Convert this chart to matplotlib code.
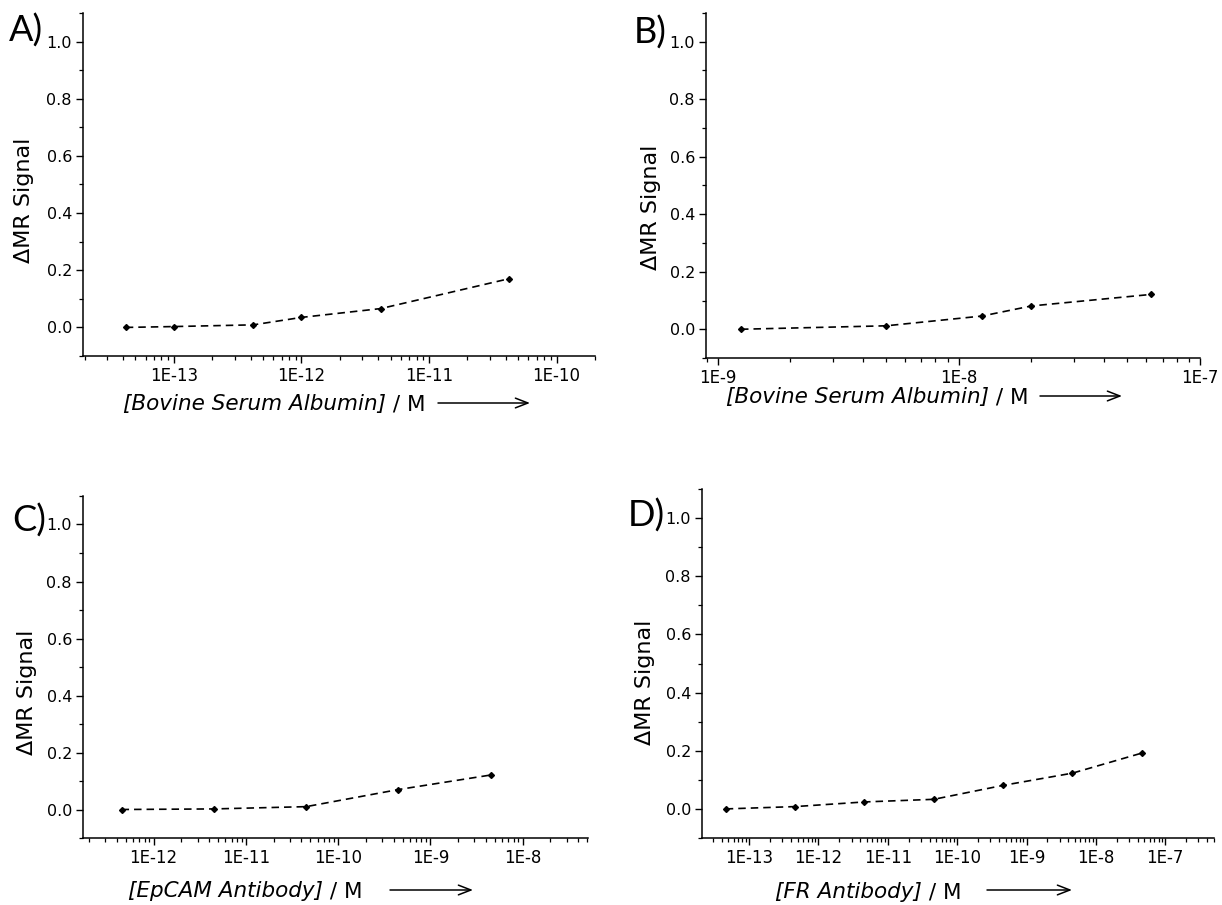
import numpy as np
import matplotlib
matplotlib.use("Agg")
import matplotlib.pyplot as plt
from matplotlib.ticker import (LogLocator, MultipleLocator, FuncFormatter,
                               FormatStrFormatter, NullFormatter)

plt.rcParams['font.family'] = ['DejaVu Sans']

# data
conc_a = [4.2e-14, 1e-13, 4.2e-13, 1e-12, 4.2e-12, 4.2e-11]
signal_a = [0.0, 0.003, 0.009, 0.035, 0.066, 0.170]

conc_b = [1.25e-9, 5e-9, 1.25e-8, 2e-8, 6.25e-8]
signal_b = [0.0, 0.012, 0.046, 0.081, 0.121]

conc_c = [4.5e-13, 4.5e-12, 4.5e-11, 4.5e-10, 4.5e-9]
signal_c = [0.0, 0.002, 0.010, 0.070, 0.121]

conc_d = [4.6e-14, 4.6e-13, 4.6e-12, 4.6e-11, 4.6e-10, 4.6e-9, 4.6e-8]
signal_d = [0.0, 0.008, 0.024, 0.033, 0.081, 0.123, 0.192]

letters = ["A)", "B)", "C)", "D)"]
analytes = ["[Bovine Serum Albumin]", "[Bovine Serum Albumin]",
            "[EpCAM Antibody]", "[FR Antibody]"]
xlims = [(1.94e-14, 2.0e-10), (8.95e-10, 1.001e-7), (1.72e-13, 5.1e-8), (2.09e-14, 5.05e-7)]

W, H = 1222, 905
fig = plt.figure(figsize=(W / 100, H / 100), dpi=100)


def rect(l, r, t, b):
    return [l / W, 1 - b / H, (r - l) / W, (b - t) / H]


def decade_label(lo, hi):
    # label only decades that are inside the axis range
    def fmt(v, p):
        if v < lo or v > hi:
            return ""
        return f"1E{int(round(np.log10(v)))}"
    return FuncFormatter(fmt)


# pixel boxes of the four panels (left, right, top, bottom)
boxes = [(83, 595, 13, 356), (706, 1200, 13, 358), (83, 588, 496, 838), (702, 1214, 489, 838)]
letter_pos = [(9, 42), (634, 44), (12, 532), (628, 527)]
ylab_pos = [(24, 200), (651, 207), (27, 692), (645, 682)]
xlab_pos = [(123, 410), (726, 403), (128, 897), (775, 898)]
arrow_pos = [(438, 530, 403), (1040, 1122, 396), (390, 473, 890), (987, 1072, 890)]

series = [(conc_a, signal_a), (conc_b, signal_b), (conc_c, signal_c), (conc_d, signal_d)]

for i, (x, y) in enumerate(series):
    ax = fig.add_axes(rect(*boxes[i]))
    ax.plot(x, y, color='black', lw=1.2, linestyle=(0, (4.5, 3)),
            marker='D', ms=3, mfc='black', mec='black')
    ax.set_xscale('log')
    ax.set_xlim(*xlims[i])
    ax.set_ylim(-0.1, 1.1)

    ax.xaxis.set_major_locator(LogLocator(base=10, numticks=20))
    ax.xaxis.set_minor_locator(LogLocator(base=10, subs=np.arange(2, 10), numticks=100))
    ax.xaxis.set_major_formatter(decade_label(*xlims[i]))
    ax.xaxis.set_minor_formatter(NullFormatter())
    ax.yaxis.set_major_locator(MultipleLocator(0.2))
    ax.yaxis.set_minor_locator(MultipleLocator(0.1))
    ax.yaxis.set_major_formatter(FormatStrFormatter('%.1f'))

    for s in ['top', 'right']:
        ax.spines[s].set_visible(False)
    for s in ['left', 'bottom']:
        ax.spines[s].set_linewidth(1.1)
    ax.tick_params(axis='x', which='major', labelsize=12)
    ax.tick_params(axis='y', which='major', labelsize=11.5)
    ax.tick_params(which='major', direction='out', length=5, width=1.0,
                   pad=3, color='black')
    ax.tick_params(which='minor', direction='out', length=3, width=0.9)

    # panel letter
    fig.text(letter_pos[i][0] / W, 1 - letter_pos[i][1] / H, letters[i],
             fontsize=26, family=['Lato', 'DejaVu Sans'], ha='left', va='baseline')

    # y label
    fig.text(ylab_pos[i][0] / W, 1 - ylab_pos[i][1] / H, "\u0394MR Signal",
             rotation=90, fontsize=16, ha='center', va='center')

    # x label: italic analyte, upright unit, arrow
    t1 = fig.text(xlab_pos[i][0] / W, 1 - xlab_pos[i][1] / H, analytes[i],
                  fontsize=15.5, style='italic', ha='left', va='baseline')
    ax.annotate(" / M", xy=(1, 0), xycoords=t1, fontsize=15.5, ha='left', va='bottom',
                annotation_clip=False)
    x1, x2, ya = arrow_pos[i]
    ax.annotate("", xy=(x2, H - ya), xycoords='figure pixels',
                xytext=(x1, H - ya), textcoords='figure pixels',
                arrowprops=dict(arrowstyle='->,head_length=0.9,head_width=0.35',
                                lw=1.1, color='black', shrinkA=0, shrinkB=0),
                annotation_clip=False)

fig.savefig("out.png", dpi=100)
